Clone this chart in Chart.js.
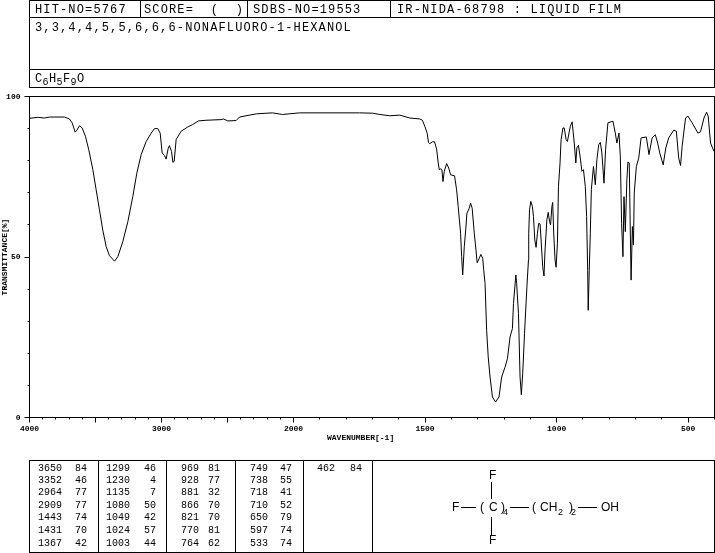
<!DOCTYPE html>
<html>
<head>
<meta charset="utf-8">
<script src="https://cdn.jsdelivr.net/npm/chart.js@4/dist/chart.umd.min.js"></script>
<style>
html,body{margin:0;padding:0;background:#fff;}
#page{position:relative;width:715px;height:553px;overflow:hidden;background:#fff;color:#000;}
canvas{position:absolute;left:0;top:0;}
.box{position:absolute;box-sizing:border-box;border:1px solid #000;}
.hl,.vl{position:absolute;background:#000;}
.t{position:absolute;white-space:pre;line-height:1;transform:translateY(-50%);font-family:"Liberation Mono",monospace;}
.big{font-size:12px;letter-spacing:1.14px;}
.fsub{font-size:10px;}
.num{font-size:10px;transform:translate(-100%,-50%);}
.sm{font-size:8px;font-weight:bold;}
.st{font-family:"Liberation Sans",sans-serif;font-size:12px;}
.stsub{font-family:"Liberation Sans",sans-serif;font-size:9px;}
</style>
</head>
<body>
<div id="page"><canvas id="c" width="715" height="553"></canvas></div>
<script>
// ---- header text ----
const hitNo = "HIT-NO=5767";
const score = "SCORE=  (  )";
const sdbsNo = "SDBS-NO=19553";
const method = "IR-NIDA-68798 : LIQUID FILM";
const compound = "3,3,4,4,5,5,6,6,6-NONAFLUORO-1-HEXANOL";

// ---- spectrum ----
const wavenumbers = [4000,3937,3886,3849,3735,3697,3677,3654,3641,3621,3601,3576,3551,3520,3495,3470,3445,3419,3394,3356,3331,3293,3255,3217,3187,3154,3116,3078,3053,3028,3010,2995,2977,2965,2950,2940,2924,2914,2904,2889,2851,2801,2763,2720,2662,2548,2530,2498,2435,2409,2280,2159,2083,1977,1749,1699,1672,1634,1596,1558,1520,1510,1501,1492,1487,1482,1472,1464,1456,1450,1446,1440,1436,1432,1427,1418,1410,1403,1388,1380,1374,1365,1361,1357,1351,1345,1341,1332,1327,1321,1313,1309,1302,1294,1288,1281,1277,1272,1266,1260,1253,1244,1232,1219,1209,1196,1187,1177,1168,1164,1155,1152,1145,1139,1134,1129,1122,1113,1107,1106,1103,1098,1092,1088,1083,1078,1073,1068,1063,1059,1053,1048,1044,1037,1032,1027,1023,1018,1015,1011,1006,1002,997,993,987,983,976,971,964,959,948,941,933,927,923,917,910,904,898,891,886,882,880,876,872,868,860,853,847,840,834,828,820,814,805,786,777,771,763,758,753,748,744,739,733,729,724,717,712,708,705,697,688,679,659,649,637,625,616,608,595,585,574,555,545,536,529,523,510,501,485,463,453,440,430,424,415,402];
const transmittance = [93.2,93.5,93.3,93.6,93.6,93.0,91.8,88.9,89.5,90.9,90.2,87.6,83.4,77.2,70.9,64.7,58.4,53.2,50.4,48.7,50.1,54.8,61.0,68.9,76.1,81.9,86.0,88.6,90.0,90.0,88.6,82.4,81.6,80.5,83.7,84.7,82.9,79.5,79.8,86.6,89.2,90.5,91.3,92.4,92.6,92.8,93.0,92.4,92.5,93.6,94.6,94.9,94.4,94.9,94.9,94.8,94.4,94.0,94.2,93.3,93.0,92.6,90.7,88.6,85.7,85.3,85.9,85.9,83.6,79.3,77.2,77.5,77.2,73.5,76.7,79.1,77.7,75.6,75.3,70.9,65.7,57.4,50.1,44.4,53.2,59.0,63.6,65.2,66.8,65.2,57.4,54.3,48.2,49.6,50.8,49.6,45.9,41.8,27.2,18.9,12.6,6.4,4.8,6.4,12.6,15.7,18.3,25.1,27.7,35.5,44.4,41.8,32.4,12.6,7.1,13.6,26.2,40.7,49.1,57.4,64.7,67.3,65.7,62.6,55.3,53.0,57.4,60.5,60.3,55.3,47.0,44.1,52.2,61.6,63.9,61.1,60.0,65.7,67.0,57.4,49.1,46.8,54.3,72.0,79.3,86.6,90.2,90.2,86.6,86.0,90.7,92.1,85.5,79.3,84.0,84.8,80.8,76.7,77.2,72.0,62.6,45.9,33.4,45.9,57.4,71.0,78.2,72.5,80.3,85.0,85.7,82.4,73.0,83.4,91.8,92.3,88.6,85.5,88.6,81.4,60.5,50.1,68.8,57.9,74.1,79.6,79.3,42.8,59.5,53.7,69.9,78.2,80.8,87.1,87.4,81.9,87.1,88.1,85.5,82.4,78.7,84.0,87.1,89.5,89.2,80.8,78.5,84.5,93.3,93.9,91.8,88.6,89.0,93.3,95.1,93.9,85.5,82.9];

// ---- axis ticks ----
const xMajorTicks = [4000,3500,3000,2500,2000,1500,1000,500];
const xLabelled = [4000,3000,2000,1500,1000,500];
const xMinorTicks = [4000,3900,3800,3700,3600,3500,3400,3300,3200,3100,3000,2900,2800,2700,2600,2500,2400,2300,2200,2100,2000,1900,1800,1700,1600,1500,1400,1300,1200,1100,1000,900,800,700,600,500,400];

// ---- peak table ----
const peakWavenumbers = [3650,3352,2964,2909,1443,1431,1367,1299,1230,1135,1080,1049,1024,1003,969,928,881,866,821,770,764,749,738,718,710,650,597,533,462];
const peakIntensities = [84,46,77,77,74,70,42,46,4,7,50,42,57,44,81,77,32,70,70,81,62,47,55,41,52,79,74,74,84];

// ---- axis with the two-part wavenumber scale of the instrument ----
const SPLIT_VALUE = 2000, SPLIT_FRACTION = 264 / 685;
class WavenumberScale extends Chart.LinearScale {
  buildTicks() { return this.options.tickValues.map(value => ({value})); }
  getPixelForValue(v) {
    const f = v >= SPLIT_VALUE
      ? (this.max - v) / (this.max - SPLIT_VALUE) * SPLIT_FRACTION
      : SPLIT_FRACTION + (SPLIT_VALUE - v) / (SPLIT_VALUE - this.min) * (1 - SPLIT_FRACTION);
    return this.getPixelForDecimal(f);
  }
  getValueForPixel(p) {
    const f = this.getDecimalForPixel(p);
    return f <= SPLIT_FRACTION
      ? this.max - f / SPLIT_FRACTION * (this.max - SPLIT_VALUE)
      : SPLIT_VALUE - (f - SPLIT_FRACTION) / (1 - SPLIT_FRACTION) * (SPLIT_VALUE - this.min);
  }
}
WavenumberScale.id = 'wavenumber';
WavenumberScale.defaults = Chart.LinearScale.defaults;
Chart.register(WavenumberScale);

const axisFont = {family: '"Liberation Mono", monospace', size: 8, weight: 'bold'};
const blackBorder = {display: true, color: '#000', width: 1};

new Chart(document.getElementById('c'), {
  type: 'line',
  data: {
    datasets: [{
      data: wavenumbers.map((w, i) => ({x: w, y: transmittance[i]})),
      xAxisID: 'x', yAxisID: 'y',
      borderColor: '#000', borderWidth: 1, pointRadius: 0, tension: 0, fill: false
    }]
  },
  options: {
    responsive: false, animation: false, devicePixelRatio: 1,
    layout: {padding: {left: 0, top: 96.5, right: 0.5, bottom: 115.5}},
    plugins: {legend: {display: false}, title: {display: false}, tooltip: {enabled: false}},
    scales: {
      x: {
        type: 'wavenumber', position: 'bottom', min: 400, max: 4000, weight: 1,
        tickValues: xMajorTicks,
        border: blackBorder,
        grid: {drawOnChartArea: false, drawTicks: true, tickLength: 5, color: '#000', tickColor: '#000', lineWidth: 1},
        ticks: {autoSkip: false, maxRotation: 0, minRotation: 0, color: '#000', font: axisFont, padding: 2,
                callback: v => xLabelled.includes(v) ? String(v) : ''},
        afterFit: s => { s.height = 20; }
      },
      xMinor: {
        type: 'wavenumber', position: 'bottom', min: 400, max: 4000, weight: 0,
        tickValues: xMinorTicks,
        border: blackBorder,
        grid: {drawOnChartArea: false, drawTicks: true, tickLength: 2, color: '#000', tickColor: '#000', lineWidth: 1},
        ticks: {display: false},
        afterFit: s => { s.height = 0; }
      },
      y: {
        type: 'linear', position: 'left', min: 0, max: 100, weight: 1,
        border: blackBorder,
        grid: {drawOnChartArea: false, drawTicks: true, tickLength: 5, color: '#000', tickColor: '#000', lineWidth: 1},
        ticks: {stepSize: 50, color: '#000', font: axisFont, padding: 4},
        title: {display: true, text: 'TRANSMITTANCE[%]', color: '#000', font: axisFont, padding: 0},
        afterFit: s => { s.width = 29.5; }
      },
      yMinor: {
        type: 'linear', position: 'left', min: 0, max: 100, weight: 0,
        border: blackBorder,
        grid: {drawOnChartArea: false, drawTicks: true, tickLength: 2, color: '#000', tickColor: '#000', lineWidth: 1},
        ticks: {display: false, stepSize: 10},
        afterFit: s => { s.width = 0; }
      }
    }
  }
});

// ---- page furniture around the chart ----
const page = document.getElementById('page');
function add(cls, css, text) {
  const d = document.createElement('div');
  d.className = cls;
  d.style.cssText = css;
  if (text !== undefined) d.textContent = text;
  page.appendChild(d);
  return d;
}
function box(l, t, r, b) { add('box', `left:${l}px;top:${t}px;width:${r-l+1}px;height:${b-t+1}px`); }
function hl(l, r, y) { add('hl', `left:${l}px;top:${y}px;width:${r-l+1}px;height:1px`); }
function vl(x, t, b) { add('vl', `left:${x}px;top:${t}px;width:1px;height:${b-t+1}px`); }
function text(cls, x, y, s) { return add('t ' + cls, `left:${x}px;top:${y}px`, s); }

// header panel
box(29, 0, 714, 87);
hl(29, 714, 17); hl(29, 714, 69);
vl(140, 0, 17); vl(247, 0, 17); vl(390, 0, 17);
text('big', 35, 9.5, hitNo);
text('big', 144, 9.5, score);
text('big', 253, 9.5, sdbsNo);
text('big', 397, 9.5, method);
text('big', 35, 27.5, compound);
// molecular formula
[['C',35],['H',49],['F',63],['O',77]].forEach(([s, x]) => text('big', x, 79, s));
[['6',42.5],['5',56.5],['9',70.5]].forEach(([s, x]) => text('fsub', x, 82.5, s));

// plot frame
hl(29, 714, 96); vl(714, 96, 417);
text('sm', 327, 437.5, 'WAVENUMBER[-1]');

// peak table
box(29, 460, 372, 552);
box(372, 460, 714, 552);
[98, 166, 235, 303].forEach(x => vl(x, 460, 552));
const colRightWn = [62, 130, 199, 268, 335];
const colRightInt = [87, 156, 220, 292, 362];
const rowY = [469, 481, 493, 505.5, 518, 531, 543.5];
peakWavenumbers.forEach((w, i) => {
  const col = Math.floor(i / 7), row = i % 7;
  text('num', colRightWn[col], rowY[row], String(w));
  text('num', colRightInt[col], rowY[row], String(peakIntensities[i]));
});

// structure
text('st', 489, 475, 'F');
text('st', 452, 507, 'F');
text('st', 489, 540, 'F');
text('st', 480, 507, '(');
text('st', 489, 507, 'C');
text('st', 501, 507, ')');
text('stsub', 503, 512, '4');
text('st', 532, 507, '(');
text('st', 540, 507, 'CH');
text('stsub', 558, 512, '2');
text('st', 569, 507, ')');
text('stsub', 571, 512, '2');
text('st', 601, 507, 'OH');
hl(461, 475, 507); hl(510, 528, 507); hl(578, 596, 507);
vl(491, 482, 498); vl(491, 517, 534);
</script>
</body>
</html>
